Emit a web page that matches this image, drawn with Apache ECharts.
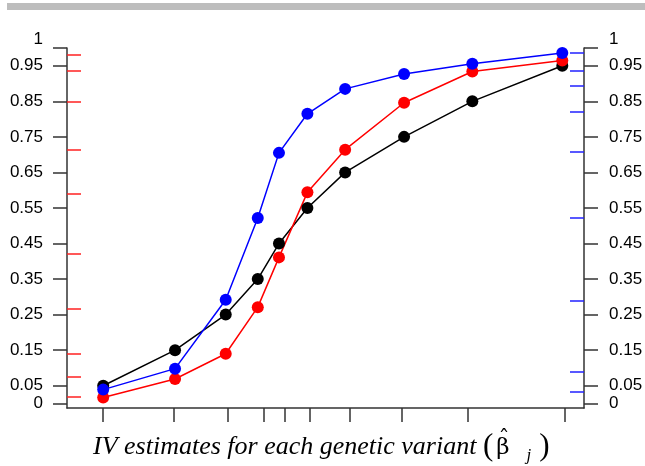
<!DOCTYPE html>
<html>
<head>
<meta charset="utf-8">
<script src="https://cdn.jsdelivr.net/npm/echarts@6/dist/echarts.min.js"></script>
<style>
    html, body { margin: 0; padding: 0; background: #fff; }
    #chart { width: 645px; height: 466px; }
</style>
</head>
<body>
<div id="chart"></div>
<script>
// x positions of the points and of the axis ticks (arbitrary units, no labels)
const xPoints = [0.70, 2.09, 3.07, 3.69, 4.10, 4.65, 5.38, 6.52, 7.84, 9.58];
const xTicks = [0.69, 2.07, 3.11, 3.80, 4.22, 4.70, 5.46, 6.48, 7.75, 9.62];

// cumulative proportions
const blackVals = [0.05, 0.15, 0.25, 0.35, 0.45, 0.55, 0.65, 0.75, 0.85, 0.95];
const redVals = [0.017, 0.069, 0.140, 0.271, 0.411, 0.594, 0.714, 0.846, 0.934, 0.965];
const blueVals = [0.039, 0.098, 0.292, 0.522, 0.705, 0.815, 0.885, 0.927, 0.956, 0.986];

// rug marks on the inner side of left (red) and right (blue) axes
const redTicks = [0.020, 0.075, 0.140, 0.267, 0.422, 0.590, 0.714, 0.850, 0.936, 0.981];
const blueTicks = [0.034, 0.089, 0.289, 0.522, 0.707, 0.822, 0.895, 0.937, 0.986];

const yLabels = [0, 0.05, 0.15, 0.25, 0.35, 0.45, 0.55, 0.65, 0.75, 0.85, 0.95, 1];

const pairs = vals => vals.map((v, i) => [xPoints[i], v]);

const labelFont = { fontFamily: 'Liberation Sans', fontSize: 17, color: '#000' };

const labelAxis = position => ({
    type: 'value',
    position,
    min: -0.0127,
    max: 1,
    axisLine: { show: true, onZero: false, lineStyle: { color: '#333', width: 1.5 } },
    axisTick: {
        show: true,
        customValues: yLabels,
        length: 14,
        lineStyle: { color: '#333', width: 1.5 }
    },
    axisLabel: {
        ...labelFont,
        customValues: yLabels,
        margin: position === 'left' ? 24 : 25,
        formatter: v => (v === 1 ? '{one|1}' : String(v)),
        rich: { one: { ...labelFont, padding: [0, 0, 18, 0] } }
    },
    splitLine: { show: false }
});

const rugAxis = (position, ticks, color) => ({
    type: 'value',
    position,
    min: -0.0127,
    max: 1,
    axisLine: { show: false, onZero: false },
    axisTick: {
        show: true,
        inside: true,
        customValues: ticks,
        length: 14,
        lineStyle: { color, width: 1.5 }
    },
    axisLabel: { show: false },
    splitLine: { show: false }
});

const line = (name, vals, color) => ({
    name,
    type: 'line',
    data: pairs(vals),
    yAxisIndex: 0,
    symbol: 'circle',
    symbolSize: 12,
    itemStyle: { color },
    lineStyle: { color, width: 1.5 },
    animation: false
});

const chart = echarts.init(document.getElementById('chart'));

chart.setOption({
    animation: false,
    grid: { left: 67, right: 61, top: 48, height: 360, outerBoundsMode: 'none' },
    graphic: [
        {
            type: 'rect',
            shape: { x: 7, y: 3, width: 638, height: 7 },
            style: { fill: '#bdbdbd' }
        },
        {
            // axis title
            type: 'text',
            x: 93,
            y: 447,
            style: {
                text: '{it|IV estimates for each genetic variant }{par|(}{beta|\u03B2}{sub|j}{par|)}',
                verticalAlign: 'middle',
                align: 'left',
                rich: {
                    it: { fontFamily: 'Liberation Serif', fontStyle: 'italic', fontSize: 26, fill: '#000' },
                    par: { fontFamily: 'Liberation Serif', fontSize: 31, fill: '#000' },
                    beta: { fontFamily: 'DejaVu Serif', fontSize: 23, fill: '#000', padding: [2, 2, 0, 3] },
                    sub: { fontFamily: 'Liberation Serif', fontStyle: 'italic', fontSize: 17, fill: '#000', padding: [18, 8, 0, 15] }
                }
            }
        },
        {
            // hat over beta
            type: 'text',
            x: 504,
            y: 440,
            style: {
                text: '\u02C6',
                fontFamily: 'DejaVu Serif',
                fontSize: 22,
                align: 'center',
                verticalAlign: 'middle',
                fill: '#000'
            }
        }
    ],
    xAxis: {
        type: 'value',
        min: 0,
        max: 10,
        axisLine: { show: true, onZero: false, lineStyle: { color: '#333', width: 1.5 } },
        axisTick: {
            show: true,
            customValues: xTicks,
            length: 14,
            lineStyle: { color: '#333', width: 1.5 }
        },
        axisLabel: { show: false },
        splitLine: { show: false }
    },
    yAxis: [
        labelAxis('left'),
        rugAxis('left', redTicks, '#ff2222'),
        labelAxis('right'),
        rugAxis('right', blueTicks, '#2222ff')
    ],
    series: [
        line('black', blackVals, '#000000'),
        line('red', redVals, '#ff0000'),
        line('blue', blueVals, '#0000ff')
    ]
});
</script>
</body>
</html>
